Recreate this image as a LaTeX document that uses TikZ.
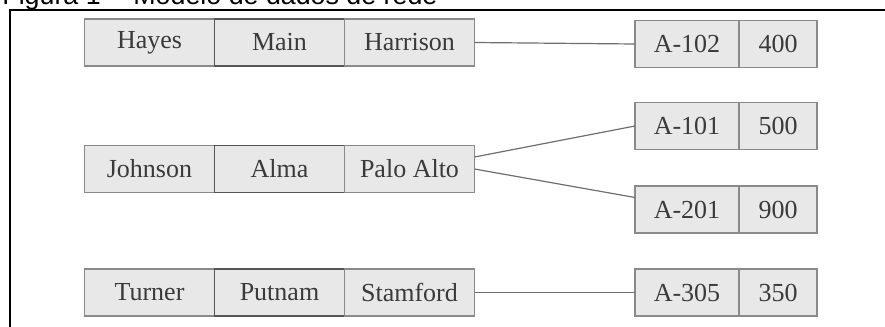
\documentclass[tikz,border=0pt]{standalone}
\usepackage{fontspec}
\setmainfont{Liberation Serif}
\newfontfamily\capfont{Liberation Sans}
\usepackage{xcolor}
\definecolor{CellFill}{HTML}{E8E8E8}
\definecolor{CellLine}{HTML}{8A8A8A}
\definecolor{KeyLine}{HTML}{555555}
\definecolor{CellText}{HTML}{3A3A3A}
\usetikzlibrary{positioning}

\begin{document}
\begin{tikzpicture}[
  x=0.5pt,y=-0.5pt,
  cell/.style={draw=CellLine,fill=CellFill,line width=0.6pt,outer sep=0pt,inner sep=0pt,
    minimum height=23.5pt,minimum width=65pt,font=\fontsize{13}{15}\selectfont,text=CellText},
  keycell/.style={cell,draw=KeyLine,line width=0.8pt},
  acc/.style={cell,minimum width=52pt},
  bal/.style={cell,minimum width=39pt},
  link/.style={draw=CellLine!80!black,line width=0.6pt}
]
  \useasboundingbox (0,0) rectangle (885,327);
  % caption (cut off at the top) and frame
  \node[anchor=base west,inner sep=0pt,font=\capfont\fontsize{13.4}{15}\selectfont] (cap) at (2,4) {Figura 1 -- Modelo de dados de rede};
  \draw[line width=1pt] (885,10) -- (10,10) -- (10,327);

  % customers
  \node[cell] (hayes) at (149.5,42.5) {Hayes};
  \node[keycell,right=0pt of hayes] (main) {Main};
  \node[cell,right=0pt of main] (harrison) {Harrison};

  \node[cell] (johnson) at (149.5,169) {Johnson};
  \node[keycell,right=0pt of johnson] (alma) {Alma};
  \node[cell,right=0pt of alma] (paloalto) {Palo Alto};

  \node[cell] (turner) at (149.5,292.5) {Turner};
  \node[keycell,right=0pt of turner] (putnam) {Putnam};
  \node[cell,right=0pt of putnam] (stamford) {Stamford};

  % accounts
  \node[acc] (a102) at (687,44) {A-102};
  \node[bal,right=0pt of a102] (b102) {400};
  \node[acc] (a101) at (687,126) {A-101};
  \node[bal,right=0pt of a101] (b101) {500};
  \node[acc] (a201) at (687,209.5) {A-201};
  \node[bal,right=0pt of a201] (b201) {900};
  \node[acc] (a305) at (687,292.5) {A-305};
  \node[bal,right=0pt of a305] (b305) {350};

  % links
  \draw[link] (harrison.east) -- (a102.west);
  \draw[link] ([yshift=6pt]paloalto.east) -- (a101.west);
  \draw[link] (paloalto.east) -- ([yshift=6pt]a201.west);
  \draw[link] (stamford.east) -- (a305.west);
\end{tikzpicture}
\end{document}
